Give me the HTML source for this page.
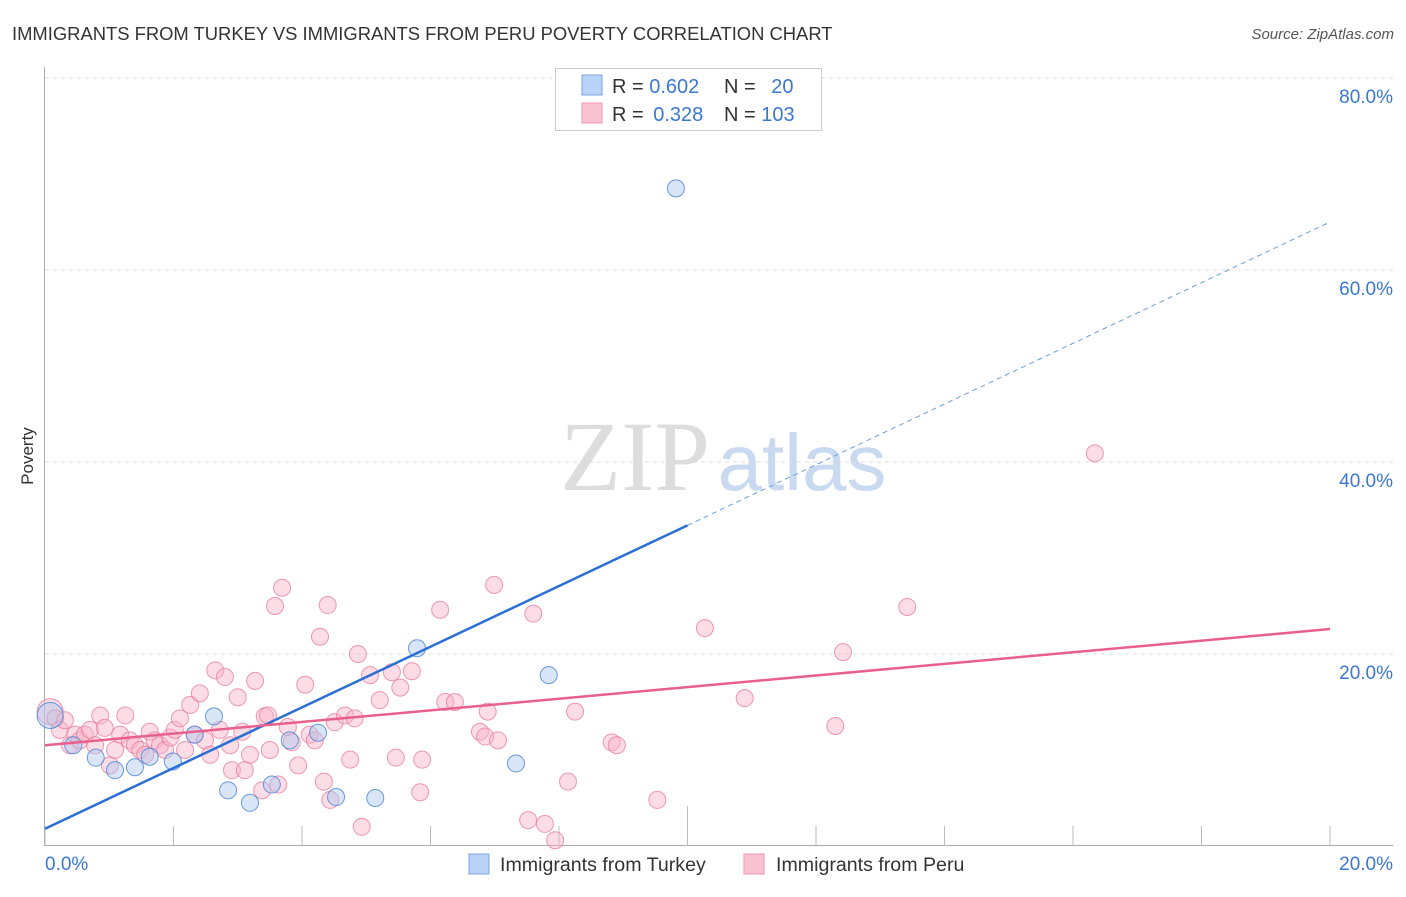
<!DOCTYPE html>
<html><head><meta charset="utf-8">
<style>
body{margin:0;background:#fff;font-family:"Liberation Sans",sans-serif;}
svg text{font-family:"Liberation Sans",sans-serif;}
</style></head>
<body>
<svg id="chart" width="1406" height="892" xmlns="http://www.w3.org/2000/svg">
<text x="12" y="40" font-size="18.4" fill="#333">IMMIGRANTS FROM TURKEY VS IMMIGRANTS FROM PERU POVERTY CORRELATION CHART</text>
<text x="1394" y="39" font-size="15" fill="#555" text-anchor="end" font-style="italic">Source: ZipAtlas.com</text>
<text x="33" y="456" font-size="17" fill="#333" text-anchor="middle" transform="rotate(-90 33 456)">Poverty</text>
<g>
<text x="635" y="490" font-size="100" fill="#ddd" text-anchor="middle" style="font-family:'Liberation Serif',serif">ZIP</text>
<text x="802" y="490" font-size="80" fill="#c9daf0" text-anchor="middle">atlas</text>
</g>
<g id="grid"></g>
<g id="axes"></g>
<g id="pts"></g>
<g id="lines"></g>
<g>
<rect x="555.5" y="68.5" width="266" height="62" fill="#fff" stroke="#ccc"/>
<rect x="582" y="75" width="20" height="20" fill="#b8d3f5" stroke="#7aa6e0"/>
<rect x="582" y="103" width="20" height="20" fill="#fac3d3" stroke="#ee96b0"/>
<text x="612" y="93" font-size="20" fill="#333">R = <tspan fill="#3a78d4">0.602</tspan></text>
<text x="724" y="93" font-size="20" fill="#333">N = <tspan fill="#3a78d4" dx="10">20</tspan></text>
<text x="612" y="121" font-size="20" fill="#333">R = <tspan fill="#3a78d4" dx="4">0.328</tspan></text>
<text x="724" y="121" font-size="20" fill="#333">N = <tspan fill="#3a78d4">103</tspan></text>
</g>
<g>
<rect x="469" y="854" width="20" height="20" fill="#b8d3f5" stroke="#7aa6e0"/>
<text x="500" y="871" font-size="19.6" fill="#333">Immigrants from Turkey</text>
<rect x="744" y="854" width="20" height="20" fill="#fac3d3" stroke="#ee96b0"/>
<text x="776" y="871" font-size="19.6" fill="#333">Immigrants from Peru</text>
</g>
</svg>
<script>
const yTicks=[20,40,60,80];
const yTickLabels=["20.0%","40.0%","60.0%","80.0%"];
const xTicks=[0,2,4,6,8,10,12,14,16,18,20];
const turkeyX=[0.08,0.44,0.79,1.09,1.40,1.63,1.99,2.33,2.63,2.85,3.19,3.53,3.81,4.25,4.53,5.14,5.79,7.33,7.84,9.82];
const turkeyY=[13.6,10.5,9.2,7.9,8.2,9.3,8.8,11.6,13.5,5.8,4.5,6.4,11.0,11.8,5.1,5.0,20.6,8.6,17.8,68.5];
const peruX=[0.08,0.16,0.23,0.31,0.39,0.47,0.54,0.62,0.70,0.78,0.86,0.93,1.01,1.09,1.17,1.25,1.32,1.40,1.48,1.56,1.63,1.71,1.79,1.87,1.95,2.02,2.10,2.18,2.26,2.33,2.41,2.49,2.57,2.65,2.72,2.80,2.88,2.91,3.00,3.07,3.11,3.19,3.27,3.38,3.42,3.47,3.50,3.58,3.63,3.69,3.78,3.84,3.94,4.05,4.12,4.20,4.28,4.34,4.40,4.44,4.51,4.67,4.75,4.82,4.87,4.93,5.06,5.21,5.40,5.46,5.53,5.71,5.84,5.87,6.15,6.23,6.38,6.77,6.85,6.89,6.99,7.05,7.52,7.60,7.78,7.94,8.14,8.25,8.82,8.90,9.53,10.27,10.89,12.30,12.42,13.42,16.34];
const peruY=[14.0,13.3,12.1,13.1,10.5,11.6,11.0,11.6,12.1,10.5,13.6,12.3,8.4,10.0,11.6,13.6,11.0,10.5,10.0,9.5,11.9,11.0,10.5,10.0,11.3,12.1,13.3,10.0,14.7,11.6,15.9,11.0,9.5,18.3,12.1,17.6,10.5,7.9,15.5,11.9,7.9,9.5,17.2,5.8,13.5,13.6,10.0,25.0,6.4,26.9,12.4,10.8,8.4,16.8,11.6,11.0,21.8,6.7,25.1,4.8,12.9,13.6,9.0,13.3,20.0,2.0,17.8,15.2,18.1,9.2,16.5,18.2,5.6,9.0,24.6,15.0,15.0,11.9,11.4,14.0,27.2,11.0,2.7,24.2,2.3,0.6,6.7,14.0,10.8,10.5,4.8,22.7,15.4,12.5,20.2,24.9,40.9];
const turkeyLine=[1.8,65.0];
const peruLine=[10.5,22.6];
const NS="http://www.w3.org/2000/svg";
const X=v=>45+v*64.25, Y=v=>846-v*9.6;
function mk(t,a,p){const e=document.createElementNS(NS,t);for(const k in a)e.setAttribute(k,a[k]);p.appendChild(e);return e;}
const grid=document.getElementById('grid'),axes=document.getElementById('axes'),pts=document.getElementById('pts'),lines=document.getElementById('lines');
yTicks.forEach((t,i)=>{
 const l=mk('line',{x1:45,x2:1393,y1:Y(t),y2:Y(t),stroke:'#ddd','stroke-dasharray':'4 4'},grid);
 
 
 const tx=mk('text',{x:1393,y:Y(t)+25,'font-size':19,fill:'#3a78d4','text-anchor':'end'},axes);
 tx.textContent=yTickLabels[i];
 
 
});
const ya=mk('line',{x1:44.5,x2:44.5,y1:67,y2:846,stroke:'#aaa'},axes);


const xa=mk('line',{x1:44,x2:1393,y1:845.5,y2:845.5,stroke:'#aaa'},axes);


xTicks.forEach(t=>{
 const tk=mk('line',{x1:X(t),x2:X(t),y1:t==10?806:826,y2:846,stroke:'#bbb'},axes);
 
 
});
const x0=mk('text',{x:45,y:870,'font-size':19,fill:'#3a78d4'},axes);x0.textContent='0.0%';


const x1=mk('text',{x:1393,y:870,'font-size':19,fill:'#3a78d4','text-anchor':'end'},axes);x1.textContent='20.0%';


peruX.forEach((v,i)=>{
 const c=mk('circle',{cx:X(v),cy:Y(peruY[i]),r:i==0?13:8.5,fill:'rgba(248,180,200,0.45)',stroke:'rgba(232,120,155,0.75)','stroke-width':1},pts);
 
 
});
turkeyX.forEach((v,i)=>{
 const c=mk('circle',{cx:X(v),cy:Y(turkeyY[i]),r:i==0?13:8.5,fill:'rgba(170,200,240,0.45)',stroke:'rgba(70,130,215,0.8)','stroke-width':1},pts);
 
 
});
const tl=v=>turkeyLine[0]+(turkeyLine[1]-turkeyLine[0])*v/20;
const b1=mk('line',{x1:X(0),y1:Y(tl(0)),x2:X(10),y2:Y(tl(10)),stroke:'#2a6fd6','stroke-width':2.5},lines);


const b2=mk('line',{x1:X(10),y1:Y(tl(10)),x2:X(20),y2:Y(tl(20)),stroke:'#6a9ee0','stroke-width':1,'stroke-dasharray':'5 4'},lines);


const p1=mk('line',{x1:X(0),y1:Y(peruLine[0]),x2:X(20),y2:Y(peruLine[1]),stroke:'#e8608c','stroke-width':2.5},lines);


</script>
</body></html>
